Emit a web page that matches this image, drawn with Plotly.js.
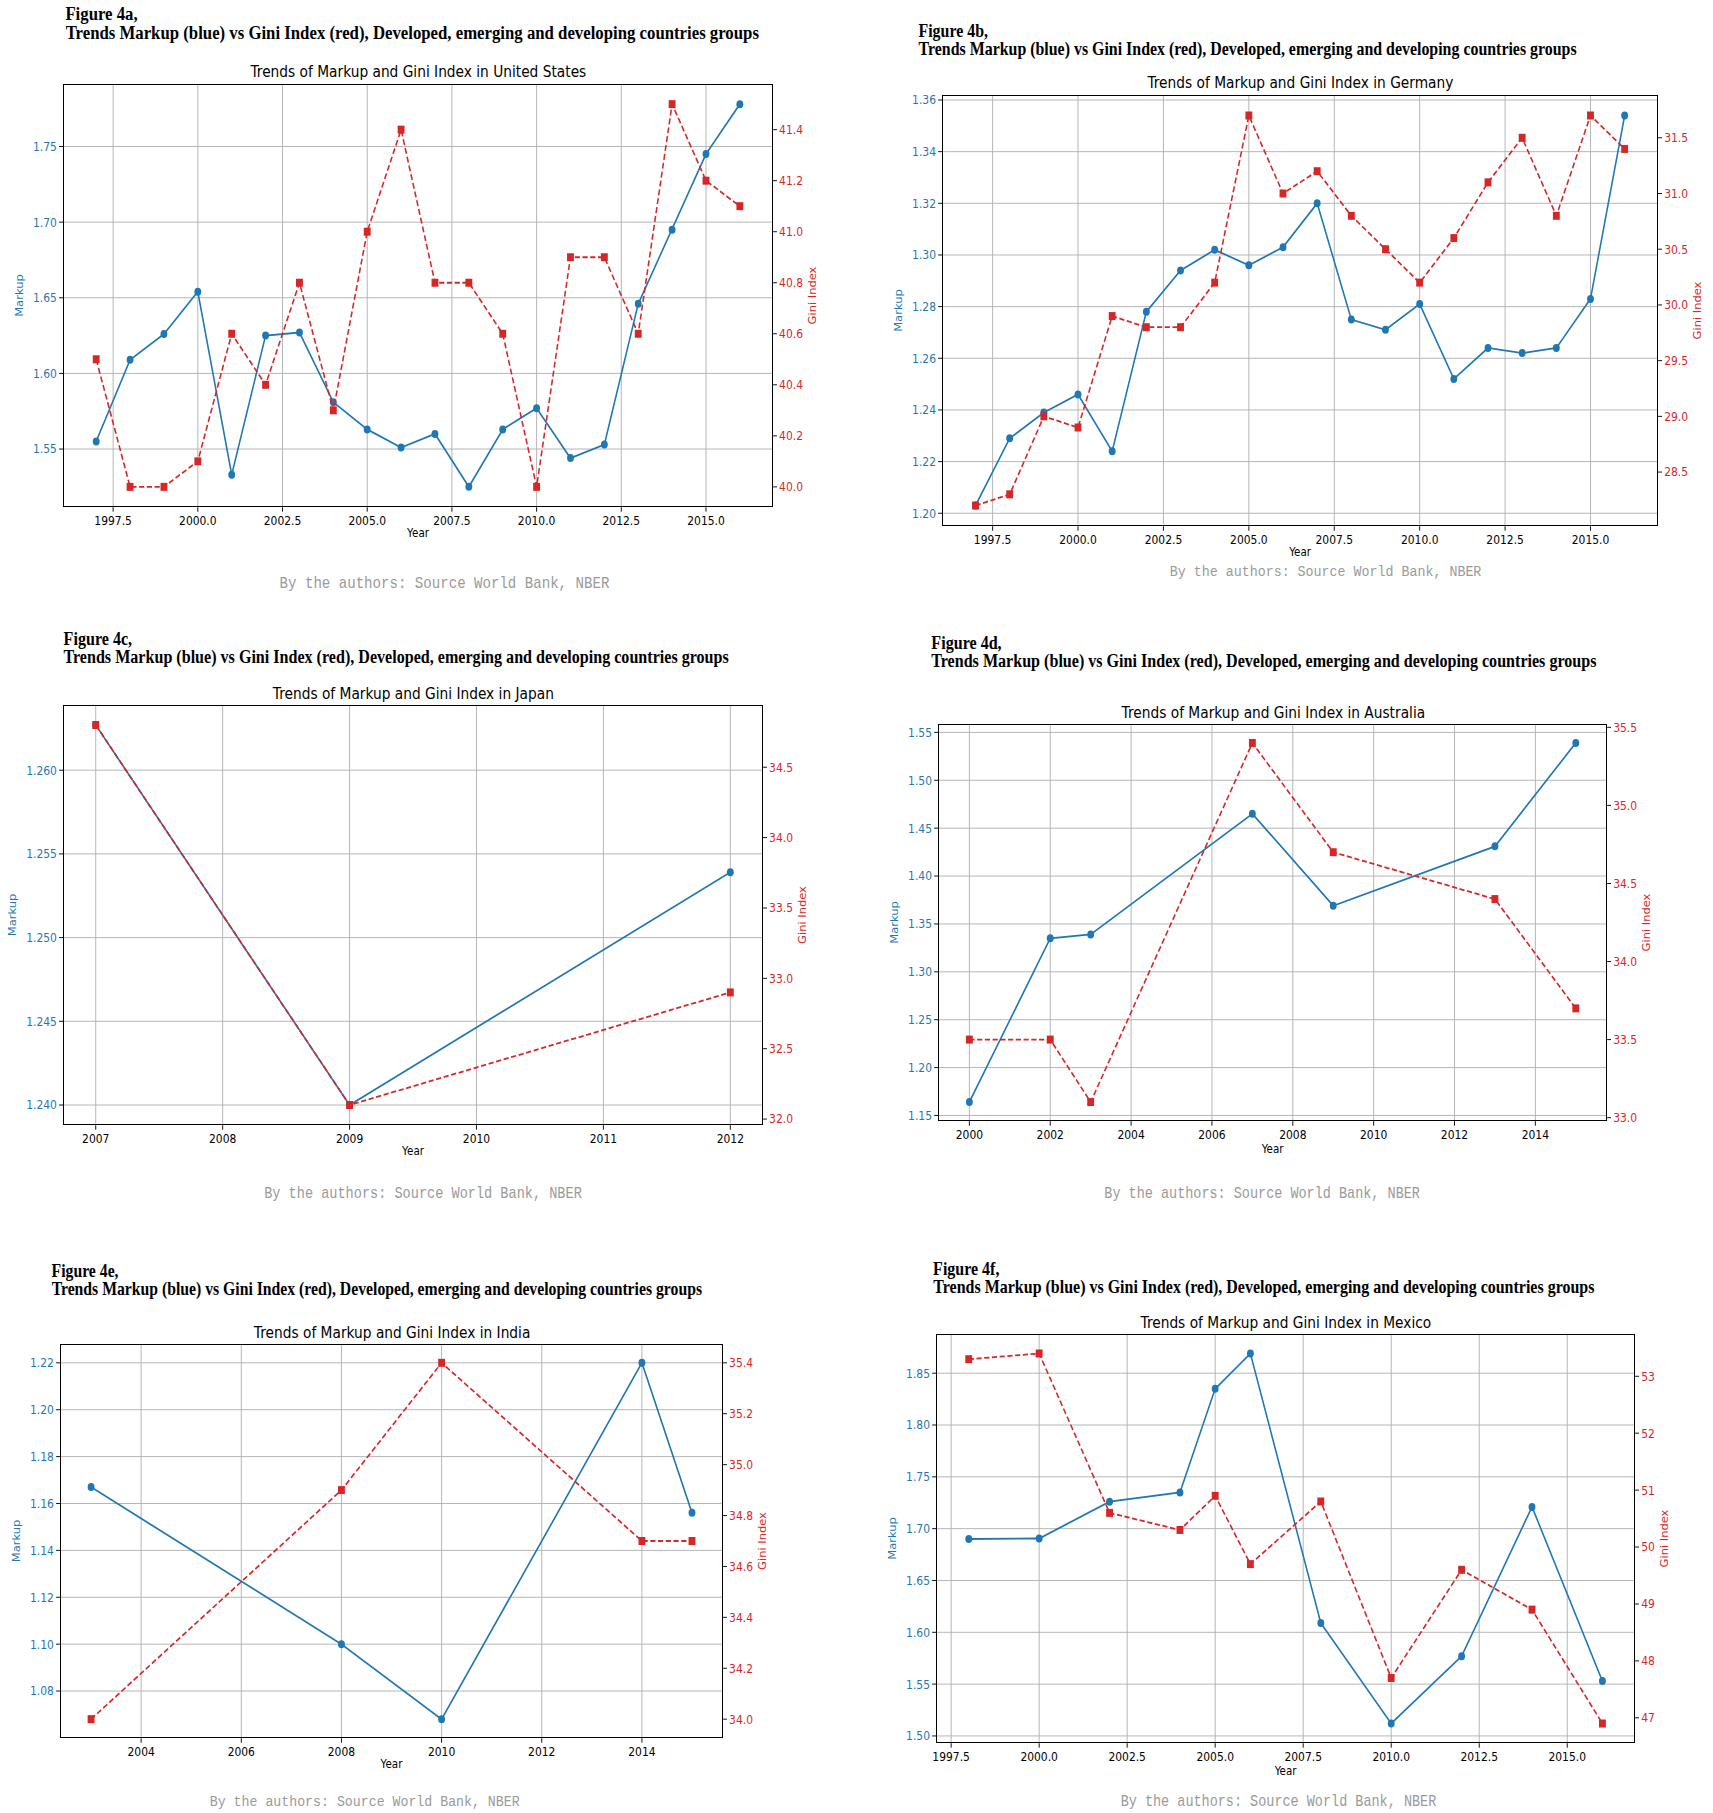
<!DOCTYPE html>
<html>
<head>
<meta charset="utf-8">
<script src="https://cdn.plot.ly/plotly-3.0.1.min.js"></script>
<style>
  html, body { margin: 0; padding: 0; background: #fff; overflow: hidden; }
  /* the source figure is squeezed horizontally, so draw wide and scale x */
  #chart { width: 1992px; height: 1813px; transform: scaleX(0.86); transform-origin: 0 0; }
</style>
</head>
<body>
<div id="chart"></div>
<script>
// ---- data ----
const usYears = [1997, 1998, 1999, 2000, 2001, 2002, 2003, 2004, 2005, 2006, 2007, 2008, 2009, 2010, 2011, 2012, 2013, 2014, 2015, 2016];
const usMarkup = [1.555, 1.609, 1.626, 1.654, 1.533, 1.625, 1.627, 1.581, 1.563, 1.551, 1.560, 1.525, 1.563, 1.577, 1.544, 1.553, 1.646, 1.695, 1.745, 1.778];
const usGini = [40.5, 40.0, 40.0, 40.1, 40.6, 40.4, 40.8, 40.3, 41.0, 41.4, 40.8, 40.8, 40.6, 40.0, 40.9, 40.9, 40.6, 41.5, 41.2, 41.1];

const deYears = [1997, 1998, 1999, 2000, 2001, 2002, 2003, 2004, 2005, 2006, 2007, 2008, 2009, 2010, 2011, 2012, 2013, 2014, 2015, 2016];
const deMarkup = [1.203, 1.229, 1.239, 1.246, 1.224, 1.278, 1.294, 1.302, 1.296, 1.303, 1.320, 1.275, 1.271, 1.281, 1.252, 1.264, 1.262, 1.264, 1.283, 1.354];
const deGini = [28.2, 28.3, 29.0, 28.9, 29.9, 29.8, 29.8, 30.2, 31.7, 31.0, 31.2, 30.8, 30.5, 30.2, 30.6, 31.1, 31.5, 30.8, 31.7, 31.4];

const jpYears = [2007, 2009, 2012];
const jpMarkup = [1.2627, 1.2400, 1.2539];
const jpGini = [34.8, 32.1, 32.9];

const auYears = [2000, 2002, 2003, 2007, 2009, 2013, 2015];
const auMarkup = [1.164, 1.335, 1.339, 1.465, 1.369, 1.431, 1.539];
const auGini = [33.5, 33.5, 33.1, 35.4, 34.7, 34.4, 33.7];

const inYears = [2003, 2008, 2010, 2014, 2015];
const inMarkup = [1.167, 1.100, 1.068, 1.220, 1.156];
const inGini = [34.0, 34.9, 35.4, 34.7, 34.7];

const mxYears = [1998, 2000, 2002, 2004, 2005, 2006, 2008, 2010, 2012, 2014, 2016];
const mxMarkup = [1.690, 1.6905, 1.726, 1.735, 1.835, 1.869, 1.609, 1.512, 1.577, 1.721, 1.553];
const mxGini = [53.3, 53.4, 50.6, 50.3, 50.9, 49.7, 50.8, 47.7, 49.6, 48.9, 46.9];

const figureLetters = ["4a", "4b", "4c", "4d", "4e", "4f"];
const countries = ["United States", "Germany", "Japan", "Australia", "India", "Mexico"];
const headerLine = "Trends Markup (blue) vs Gini Index (red), Developed, emerging and developing countries groups";
const sourceNote = "By the authors: Source World Bank, NBER";

// ---- layout of the six panels (pixel boxes in the final picture) ----
// head: [x, y line 1, y line 2, font size], foot: [x centre, y, font size]
const PAGE_W = 1713, PAGE_H = 1813;
const panels = [
  { years: usYears, markup: usMarkup, gini: usGini, box: [64, 85, 772, 506], head: [64, 14, 33, 19.5], foot: [445, 583, 16.4],
    xdtick: 2.5, xfmt: ".1f", mdtick: 0.05, mfmt: ".2f", gdtick: 0.2, gfmt: ".1f" },
  { years: deYears, markup: deMarkup, gini: deGini, box: [943, 96, 1657, 525], head: [917, 31, 50, 18.5], foot: [1326, 572, 15.5],
    xdtick: 2.5, xfmt: ".1f", mdtick: 0.02, mfmt: ".2f", gdtick: 0.5, gfmt: ".1f" },
  { years: jpYears, markup: jpMarkup, gini: jpGini, box: [64, 706, 762, 1124], head: [62, 638, 657, 18.7], foot: [423, 1194, 15.8],
    xdtick: 1, xfmt: "d", mdtick: 0.005, mfmt: ".3f", gdtick: 0.5, gfmt: ".1f" },
  { years: auYears, markup: auMarkup, gini: auGini, box: [939, 725, 1606, 1120], head: [930, 642, 661, 18.7], foot: [1262, 1194, 15.7],
    xdtick: 2, xfmt: "d", mdtick: 0.05, mfmt: ".2f", gdtick: 0.5, gfmt: ".1f" },
  { years: inYears, markup: inMarkup, gini: inGini, box: [61, 1345, 722, 1737], head: [50, 1271, 1289, 18.3], foot: [365, 1802, 15.4],
    xdtick: 2, xfmt: "d", mdtick: 0.02, mfmt: ".2f", gdtick: 0.2, gfmt: ".1f" },
  { years: mxYears, markup: mxMarkup, gini: mxGini, box: [937, 1335, 1634, 1742], head: [931, 1268, 1287, 18.6], foot: [1279, 1802, 15.7],
    xdtick: 2.5, xfmt: ".1f", mdtick: 0.05, mfmt: ".2f", gdtick: 1, gfmt: "d" },
];

const BLUE = "#1f77b4";
const RED = "#d62728";
const SANS = "DejaVu Sans, sans-serif";
const SERIF = "Liberation Serif, Times New Roman, serif";
const MONO = "Liberation Mono, Courier New, monospace";

// matplotlib-like 5% margins around the data
function padRange(values) {
  const lo = Math.min(...values), hi = Math.max(...values);
  const d = (hi - lo) * 0.05;
  return [lo - d, hi + d];
}
const px = (x) => x / PAGE_W;
const py = (y) => 1 - y / PAGE_H;

const data = [];
const layout = {
  width: 1992,
  height: PAGE_H,
  margin: { l: 0, r: 0, t: 0, b: 0 },
  paper_bgcolor: "#fff",
  plot_bgcolor: "#fff",
  showlegend: false,
  annotations: [],
};

panels.forEach((p, i) => {
  const n = i + 1;
  const xName = n === 1 ? "x" : "x" + n;
  const yA = 2 * n - 1, yB = 2 * n;
  const yAName = yA === 1 ? "y" : "y" + yA;
  const yBName = "y" + yB;
  const [l, t, r, b] = p.box;

  data.push({
    x: p.years, y: p.markup, xaxis: xName, yaxis: yAName,
    type: "scatter", mode: "lines+markers", name: "Markup",
    line: { color: BLUE, width: 1.8 },
    marker: { color: BLUE, size: 8, symbol: "circle" },
  });
  data.push({
    x: p.years, y: p.gini, xaxis: xName, yaxis: yBName,
    type: "scatter", mode: "lines+markers", name: "Gini Index",
    line: { color: RED, width: 1.8, dash: "6px,3px" },
    marker: { color: RED, size: 8, symbol: "square" },
  });

  const tickCommon = {
    ticks: "outside", ticklen: 4.5, tickwidth: 1, tickcolor: "#000",
    showline: true, linecolor: "#000", linewidth: 1.2, zeroline: false,
  };

  layout["xaxis" + (n === 1 ? "" : n)] = Object.assign({}, tickCommon, {
    domain: [px(l), px(r)], anchor: yAName,
    range: padRange(p.years), tick0: 0, dtick: p.xdtick, tickformat: p.xfmt,
    mirror: true, showgrid: true, gridcolor: "#b0b0b0", gridwidth: 1,
    ticklabelstandoff: -2,
    tickfont: { family: SANS, size: 12.5, color: "#000" },
    title: { text: "Year", font: { family: SANS, size: 12, color: "#000" }, standoff: 2 },
  });
  layout["yaxis" + (yA === 1 ? "" : yA)] = Object.assign({}, tickCommon, {
    domain: [py(b), py(t)], anchor: xName,
    range: padRange(p.markup), tick0: 0, dtick: p.mdtick, tickformat: p.mfmt,
    mirror: true, showgrid: true, gridcolor: "#b0b0b0", gridwidth: 1,
    tickfont: { family: SANS, size: 12.5, color: BLUE },
    title: { text: "Markup", font: { family: SANS, size: 11.5, color: BLUE }, standoff: 8 },
  });
  layout["yaxis" + yB] = Object.assign({}, tickCommon, {
    domain: [py(b), py(t)], anchor: xName, overlaying: yAName, side: "right",
    range: padRange(p.gini), tick0: 0, dtick: p.gdtick, tickformat: p.gfmt,
    showgrid: false,
    tickfont: { family: SANS, size: 12.5, color: RED },
    title: { text: "Gini Index", font: { family: SANS, size: 11.5, color: RED }, standoff: 8 },
  });

  // subplot title
  layout.annotations.push({
    xref: "paper", yref: "paper", x: px((l + r) / 2), y: py(t - 13),
    xanchor: "center", yanchor: "middle", showarrow: false,
    text: "Trends of Markup and Gini Index in " + countries[i],
    font: { family: SANS, size: 16, color: "#000" },
  });
  // figure header, two lines
  layout.annotations.push({
    xref: "paper", yref: "paper", x: px(p.head[0]), y: py(p.head[1]),
    xanchor: "left", yanchor: "middle", showarrow: false,
    text: "<b>Figure " + figureLetters[i] + ",</b>",
    font: { family: SERIF, size: p.head[3], color: "#000" },
  });
  layout.annotations.push({
    xref: "paper", yref: "paper", x: px(p.head[0]), y: py(p.head[2]),
    xanchor: "left", yanchor: "middle", showarrow: false,
    text: "<b>" + headerLine + "</b>",
    font: { family: SERIF, size: p.head[3], color: "#000" },
  });
  // source note
  layout.annotations.push({
    xref: "paper", yref: "paper", x: px(p.foot[0]), y: py(p.foot[1]),
    xanchor: "center", yanchor: "middle", showarrow: false,
    text: sourceNote,
    font: { family: MONO, size: p.foot[2], color: "#9a9a9a" },
  });
});

Plotly.newPlot("chart", data, layout, { staticPlot: true, displayModeBar: false });
</script>
</body>
</html>
